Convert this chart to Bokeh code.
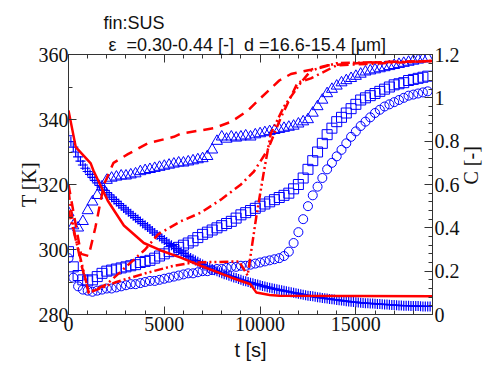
import math
from bokeh.plotting import figure
from bokeh.models import Range1d, LinearAxis, Title, FixedTicker, CustomJSTickFormatter
from bokeh.embed import file_html
from bokeh.resources import INLINE

# ---------------- data ----------------
t_obs = [0, 250, 500, 750, 1000, 1250, 1500, 1750, 2000, 2250, 2500, 2750, 3000, 3250, 3500, 3750,
         4000, 4250, 4500, 4750, 5000, 5250, 5500, 5750, 6000, 6250, 6500, 6750, 7000, 7250, 7500, 7750,
         8000, 8250, 8500, 8750, 9000, 9250, 9500, 9750, 10000, 10250, 10500, 10750, 11000, 11250, 11500, 11750,
         12000, 12250, 12500, 12750, 13000, 13250, 13500, 13750, 14000, 14250, 14500, 14750, 15000, 15250, 15500, 15750,
         16000, 16250, 16500, 16750, 17000, 17250, 17500, 17750, 18000, 18250, 18500, 18750]

# measured temperature T [K] (blue +), sampled more densely
t_T = [0, 125, 250, 375, 500, 625, 750, 875, 1000, 1125, 1250, 1375, 1500, 1625, 1750, 1875,
       2000, 2125, 2250, 2375, 2500, 2625, 2750, 2875, 3000, 3125, 3250, 3375, 3500, 3625, 3750, 3875,
       4000, 4125, 4250, 4375, 4500, 4625, 4750, 4875, 5000, 5125, 5250, 5375, 5500, 5625, 5750, 5875,
       6000, 6125, 6250, 6375, 6500, 6625, 6750, 6875, 7000, 7125, 7250, 7375, 7500, 7625, 7750, 7875,
       8000, 8125, 8250, 8375, 8500, 8625, 8750, 8875, 9000, 9125, 9250, 9375, 9500, 9625, 9750, 9875,
       10000, 10125, 10250, 10375, 10500, 10625, 10750, 10875, 11000, 11125, 11250, 11375, 11500, 11625, 11750, 11875,
       12000, 12125, 12250, 12375, 12500, 12625, 12750, 12875, 13000, 13125, 13250, 13375, 13500, 13625, 13750, 13875,
       14000, 14125, 14250, 14375, 14500, 14625, 14750, 14875, 15000, 15125, 15250, 15375, 15500, 15625, 15750, 15875,
       16000, 16125, 16250, 16375, 16500, 16625, 16750, 16875, 17000, 17125, 17250, 17375, 17500, 17625, 17750, 17875,
       18000, 18125, 18250, 18375, 18500, 18625, 18750, 18875]
T_meas = [335, 333.2, 331.5, 330, 328.5, 327.2, 326, 325, 324, 323.1, 322.2, 321.3, 320.5, 319.7, 319, 318.2,
          317.5, 316.8, 316.1, 315.4, 314.8, 314.1, 313.5, 312.8, 312.2, 311.6, 311, 310.4, 309.8, 309.2, 308.6, 308,
          307.5, 306.9, 306.3, 305.7, 305.1, 304.5, 304, 303.4, 302.9, 302.3, 301.8, 301.3, 300.8, 300.3, 299.8, 299.3,
          298.8, 298.3, 297.9, 297.4, 297, 296.6, 296.2, 295.8, 295.4, 295, 294.7, 294.3, 294, 293.6, 293.3, 293,
          292.7, 292.4, 292.2, 291.9, 291.7, 291.4, 291.2, 290.9, 290.7, 290.4, 290.2, 290, 289.8, 289.6, 289.4, 289.2,
          289, 288.8, 288.6, 288.4, 288.2, 288.05, 287.9, 287.75, 287.6, 287.45, 287.3, 287.15, 287, 286.85, 286.7, 286.55,
          286.4, 286.25, 286.1, 285.95, 285.8, 285.7, 285.6, 285.45, 285.3, 285.2, 285.1, 285, 284.9, 284.8, 284.7, 284.6,
          284.5, 284.4, 284.3, 284.2, 284.1, 284, 283.9, 283.85, 283.8, 283.7, 283.6, 283.55, 283.5, 283.45, 283.4, 283.35,
          283.3, 283.25, 283.2, 283.15, 283.1, 283.05, 283, 282.95, 282.9, 282.85, 282.8, 282.75, 282.7, 282.7, 282.7, 282.65,
          282.6, 282.6, 282.6, 282.55, 282.5, 282.5, 282.5, 282.5]

# C [-] measured (triangles, squares, circles)
C_tri = [0.47, 0.41, 0.40, 0.43, 0.48, 0.52, 0.55, 0.59, 0.62, 0.63, 0.635, 0.64, 0.64, 0.645, 0.65, 0.66,
         0.665, 0.67, 0.675, 0.68, 0.685, 0.69, 0.695, 0.70, 0.70, 0.705, 0.71, 0.715, 0.72, 0.73, 0.76, 0.80,
         0.82, 0.81, 0.82, 0.815, 0.82, 0.825, 0.82, 0.83, 0.835, 0.84, 0.845, 0.85, 0.855, 0.86, 0.865, 0.87,
         0.88, 0.89, 0.90, 0.93, 0.96, 0.99, 1.02, 1.04, 1.055, 1.07, 1.08, 1.09, 1.10, 1.11, 1.12, 1.125,
         1.13, 1.135, 1.14, 1.145, 1.15, 1.155, 1.16, 1.165, 1.17, 1.175, 1.18, 1.185]
C_sq = [0.29, 0.22, 0.18, 0.16, 0.155, 0.16, 0.175, 0.19, 0.20, 0.205, 0.21, 0.215, 0.22, 0.225, 0.23, 0.24,
        0.245, 0.25, 0.26, 0.27, 0.28, 0.29, 0.30, 0.31, 0.32, 0.33, 0.34, 0.355, 0.37, 0.38, 0.39, 0.40,
        0.41, 0.42, 0.43, 0.445, 0.46, 0.47, 0.48, 0.49, 0.50, 0.51, 0.52, 0.53, 0.54, 0.55, 0.56, 0.58,
        0.60, 0.63, 0.67, 0.71, 0.75, 0.79, 0.83, 0.86, 0.89, 0.91, 0.93, 0.95, 0.97, 0.99, 1.0, 1.01,
        1.02, 1.03, 1.04, 1.05, 1.06, 1.065, 1.07, 1.08, 1.085, 1.09, 1.095, 1.10]
C_cir = [0.26, 0.17, 0.13, 0.115, 0.11, 0.105, 0.11, 0.115, 0.12, 0.12, 0.125, 0.13, 0.135, 0.14, 0.14, 0.145,
         0.15, 0.155, 0.155, 0.16, 0.165, 0.17, 0.175, 0.18, 0.185, 0.19, 0.19, 0.195, 0.20, 0.20, 0.205, 0.21,
         0.21, 0.215, 0.22, 0.22, 0.225, 0.225, 0.23, 0.235, 0.24, 0.245, 0.25, 0.255, 0.26, 0.27, 0.29, 0.33,
         0.38, 0.44, 0.50, 0.55, 0.59, 0.63, 0.67, 0.70, 0.73, 0.76, 0.79, 0.82, 0.845, 0.87, 0.89, 0.91,
         0.93, 0.945, 0.96, 0.97, 0.98, 0.99, 1.0, 1.01, 1.015, 1.02, 1.025, 1.03]

# calculated temperature (red solid)
t_Tcalc = [0, 380, 1160, 1300, 2050, 2890, 3930, 4820, 5860, 6900, 8480, 9500, 9800, 10500, 11000, 19000]
T_calc = [342.8, 331.5, 326.5, 324.3, 315, 307.4, 302, 299.7, 297.5, 295, 291.4, 289.3, 286.8, 286.0, 285.8, 285.6]

# calculated C (red dashed / dash-dot / dash-dot-dot)
t_Ca = [0, 650, 1050, 1400, 1850, 2350, 3100, 4140, 5500, 5860, 7600, 8500, 9350, 9800, 10400, 11000,
        11610, 12650, 13500, 15600, 19000]
C_a = [0.60, 0.28, 0.27, 0.40, 0.60, 0.70, 0.74, 0.79, 0.82, 0.835, 0.86, 0.89, 0.94, 0.98, 1.03, 1.08,
       1.11, 1.13, 1.15, 1.163, 1.17]
t_Cb = [0, 280, 700, 1060, 2000, 3000, 4000, 4680, 5860, 6900, 7950, 9000, 9680, 10400, 11090, 11960, 12650,
        14000, 19000]
C_b = [0.57, 0.39, 0.22, 0.10, 0.14, 0.22, 0.30, 0.37, 0.43, 0.47, 0.53, 0.60, 0.66, 0.76, 0.91, 1.07, 1.09,
       1.15, 1.17]
t_Cc = [0, 650, 1060, 2500, 4000, 5500, 6500, 8900, 9350, 9800, 10200, 10560, 11250, 12130, 12650, 14000, 19000]
C_c = [0.48, 0.25, 0.10, 0.15, 0.19, 0.225, 0.24, 0.245, 0.18, 0.45, 0.66, 0.835, 0.96, 1.07, 1.126, 1.16, 1.17]

x_ticks = [0, 5000, 10000, 15000]
T_ticks = [280, 300, 320, 340, 360]
C_ticks = [0, 0.2, 0.4, 0.6, 0.8, 1, 1.2]

# ---------------- figure ----------------
W, H = 501, 367
p = figure(width=W, height=H, output_backend="svg", toolbar_location=None,
           x_range=Range1d(0, 19000), y_range=Range1d(280, 360),
           min_border_left=68, min_border_right=69, min_border_top=54, min_border_bottom=53)
p.extra_y_ranges = {"C": Range1d(0, 1.2)}
p.grid.visible = False
p.outline_line_color = None
p.background_fill_color = "white"
p.border_fill_color = "white"

BLUE = "#0000ff"
RED = "#ff0000"

# measured markers
p.scatter(t_obs, C_tri, y_range_name="C", marker="triangle", size=11, fill_color=None,
          line_color=BLUE, line_width=1)
p.scatter(t_obs, C_sq, y_range_name="C", marker="square", size=10, fill_color=None,
          line_color=BLUE, line_width=1)
p.scatter(t_obs, C_cir, y_range_name="C", marker="circle", size=9, fill_color=None,
          line_color=BLUE, line_width=1)
p.scatter(t_T, T_meas, marker="cross", size=10, line_color=BLUE, line_width=1.2)

# calculated lines
p.line(t_Ca, C_a, y_range_name="C", line_color=RED, line_width=2.5, line_dash="10 7")
p.line(t_Cb, C_b, y_range_name="C", line_color=RED, line_width=2.5, line_dash="9 4 2 4")
p.line(t_Cc, C_c, y_range_name="C", line_color=RED, line_width=2.5, line_dash="9 3 2 3 2 3")
p.line(t_Tcalc, T_calc, line_color=RED, line_width=2.5)

AX = "#333333"
SERIF = "Liberation Serif"
SANS = "Liberation Sans"

def style(ax):
    ax.axis_line_color = AX
    ax.axis_line_width = 1
    ax.major_tick_line_color = AX
    ax.minor_tick_line_color = AX
    ax.major_tick_in = 8
    ax.major_tick_out = 0
    ax.minor_tick_in = 4
    ax.minor_tick_out = 0
    ax.major_label_text_font = SERIF
    ax.major_label_text_font_size = "20px"
    ax.major_label_text_color = "#111111"
    ax.axis_label_text_color = "#111111"
    ax.axis_label_text_font_size = "20px"
    ax.axis_label_text_font_style = "normal"

xa = p.xaxis[0]
style(xa)
xa.ticker = FixedTicker(ticks=x_ticks, minor_ticks=list(range(0, 19001, 1000)))
xa.major_label_standoff = 2
xa.axis_label = "t [s]"
xa.axis_label_text_font = SANS
xa.axis_label_standoff = 5

ya = p.yaxis[0]
style(ya)
ya.ticker = FixedTicker(ticks=T_ticks, minor_ticks=list(range(280, 361, 10)))
ya.major_label_standoff = 0
ya.axis_label = "T [K]"
ya.axis_label_text_font = SERIF
ya.axis_label_standoff = -4

ra = LinearAxis(y_range_name="C",
                ticker=FixedTicker(ticks=C_ticks, minor_ticks=[i * 0.04 for i in range(31)]))
style(ra)
ra.major_label_overrides = {0: "0", 0.2: "0.2", 0.4: "0.4", 0.6: "0.6", 0.8: "0.8", 1: "1", 1.2: "1.2"}
ra.major_label_standoff = 2
ra.axis_label = "C [-]"
ra.axis_label_text_font = SERIF
ra.axis_label_standoff = 8
ra.axis_label_orientation = math.pi / 2
p.add_layout(ra, "right")

top = LinearAxis(ticker=FixedTicker(ticks=x_ticks, minor_ticks=list(range(0, 19001, 1000))),
                 formatter=CustomJSTickFormatter(code="return ''"))
style(top)
top.major_label_standoff = 0
top.major_label_text_font_size = "1px"
p.add_layout(top, "above")

NB = "\u00a0"
line2 = "ε" + NB + NB + "=0.30-0.44 [-]" + NB + NB + "d" + NB + "=16.6-15.4 [μm]"
# titles (added outward from the frame)
p.add_layout(Title(text=line2, text_font=SANS, text_font_size="18px",
                   text_font_style="normal", align="left", offset=40, standoff=0, text_color="#111111"),
             "above")
p.add_layout(Title(text="fin:SUS", text_font=SANS, text_font_size="18px", text_font_style="normal",
                   align="left", offset=35, standoff=0, text_color="#111111"), "above")

open("out.html", "w").write(file_html(p, INLINE))
